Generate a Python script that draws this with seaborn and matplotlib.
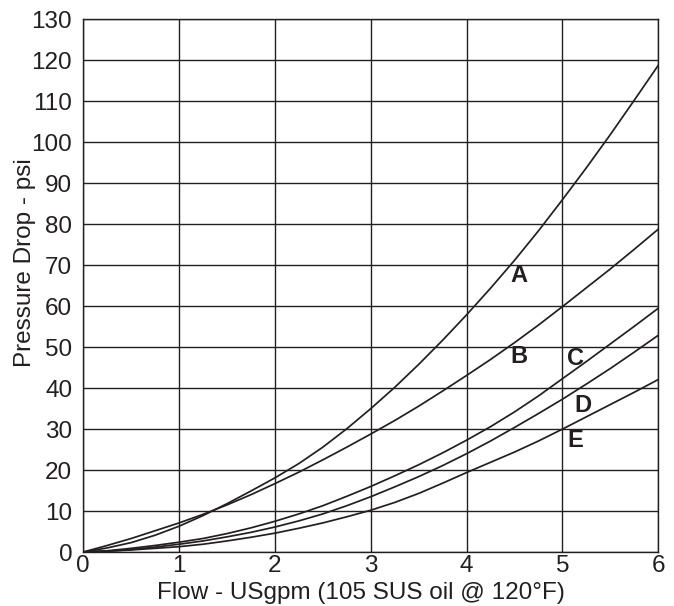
import pandas as pd
import matplotlib
matplotlib.use("Agg")
import matplotlib.pyplot as plt
import seaborn as sns

flow = [0, 0.25, 0.5, 0.75, 1, 1.25, 1.5, 1.75, 2, 2.25, 2.5, 2.75, 3,
        3.25, 3.5, 3.75, 4, 4.25, 4.5, 4.75, 5, 5.25, 5.5, 5.75, 6]

# pressure drop (psi) per curve
curve_a = [0, 1.0, 2.3, 4.1, 6.3, 8.9, 11.8, 14.9, 18.1, 21.6, 25.6, 30.1, 35.0,
           40.2, 45.8, 51.7, 57.9, 64.4, 71.2, 78.4, 86.0, 93.8, 101.9, 110.3, 118.8]
curve_b = [0, 1.6, 3.3, 5.2, 7.1, 9.2, 11.5, 14.0, 16.7, 19.5, 22.5, 25.6, 28.8,
           32.1, 35.6, 39.3, 43.1, 47.0, 51.1, 55.4, 59.9, 64.5, 69.1, 73.9, 78.8]
curve_c = [0, 0.3, 0.9, 1.6, 2.4, 3.3, 4.5, 5.9, 7.5, 9.3, 11.3, 13.6, 16.0,
           18.6, 21.3, 24.2, 27.3, 30.6, 34.2, 38.1, 42.3, 46.5, 50.8, 55.1, 59.5]
curve_d = [0, 0.2, 0.6, 1.2, 1.9, 2.7, 3.7, 4.8, 6.1, 7.6, 9.3, 11.3, 13.5,
           15.9, 18.4, 21.1, 24.0, 27.1, 30.4, 33.8, 37.3, 41.0, 44.8, 48.8, 52.9]
curve_e = [0, 0.2, 0.5, 0.9, 1.3, 1.9, 2.7, 3.6, 4.6, 5.8, 7.1, 8.6, 10.2,
           12.1, 14.3, 16.8, 19.4, 21.9, 24.4, 27.1, 30.0, 33.0, 36.0, 39.0, 42.1]

curve_names = ["A", "B", "C", "D", "E"]
label_x = [4.55, 4.55, 5.14, 5.21, 5.13]
label_y = [67.6, 47.7, 47.2, 35.7, 27.1]

x_ticks = [0, 1, 2, 3, 4, 5, 6]
y_ticks = list(range(0, 131, 10))

INK = "#231f20"

df = pd.concat(
    [pd.DataFrame({"flow": flow, "dp": vals, "curve": name})
     for name, vals in zip(curve_names, [curve_a, curve_b, curve_c, curve_d, curve_e])],
    ignore_index=True,
)

sns.set_theme(style="white")
plt.rcParams["font.family"] = ["Liberation Sans", "DejaVu Sans"]

fig = plt.figure(figsize=(6.74, 6.06), dpi=100)
ax = fig.add_axes([0.1236, 0.0891, 0.8531, 0.8789])

for name in curve_names:
    sns.lineplot(data=df[df["curve"] == name], x="flow", y="dp",
                 color=INK, linewidth=1.25, ax=ax, legend=False)

for name, lx, ly in zip(curve_names, label_x, label_y):
    ax.text(lx, ly, name, ha="center", va="center", fontsize=17,
            fontweight="bold", color=INK)

ax.set_xlim(0, 6)
ax.set_ylim(0, 130)
ax.set_xticks(x_ticks)
ax.set_yticks(y_ticks)
ax.grid(True, color=INK, linewidth=1.0)
ax.set_axisbelow(True)
for s in ax.spines.values():
    s.set_color(INK)
    s.set_linewidth(1.0)

ax.tick_params(axis="both", length=0, labelsize=17.5, colors=INK)
ax.tick_params(axis="y", pad=8)
ax.tick_params(axis="x", pad=2)

ax.set_xlabel("Flow - USgpm (105 SUS oil @ 120°F)", fontsize=17.5, color=INK)
ax.set_ylabel("Pressure Drop - psi", fontsize=17.5, color=INK)
ax.xaxis.set_label_coords(0.482, -0.056)
ax.yaxis.set_label_coords(-0.083, 0.544)

fig.savefig("out.png", dpi=100)
